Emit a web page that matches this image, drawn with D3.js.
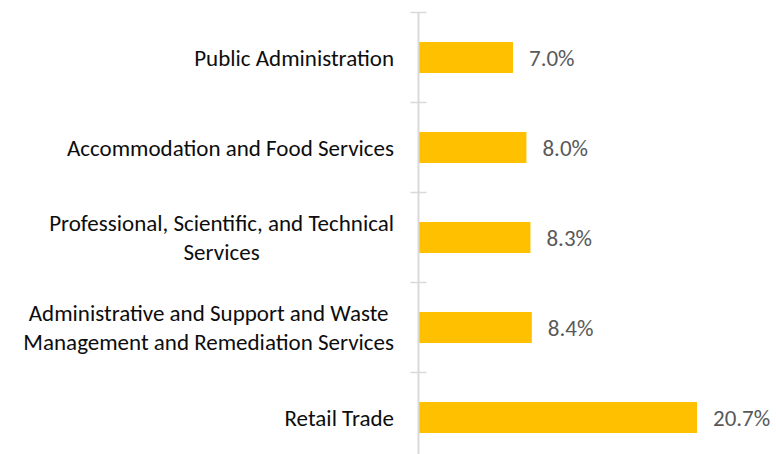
<!DOCTYPE html>
<html>
<head>
<meta charset="utf-8">
<script src="https://cdn.jsdelivr.net/npm/d3@7"></script>
<style>
  html, body { margin: 0; padding: 0; background: #fff; }
  svg { display: block; }
  text { font-family: Carlito, Calibri, Lato, "Open Sans", sans-serif; }
</style>
</head>
<body>
<svg id="chart" width="776" height="454"></svg>
<script>
// Data (top to bottom)
const categories = [
  "Public Administration",
  "Accommodation and Food Services",
  "Professional, Scientific, and Technical\nServices",
  "Administrative and Support and Waste\nManagement and Remediation Services",
  "Retail Trade"
];
const values = [7.0, 8.0, 8.3, 8.4, 20.7];
const valueLabels = ["7.0%", "8.0%", "8.3%", "8.4%", "20.7%"];

const W = 776, H = 454;
const axisX = 418.5;
const fontSize = 23;

const svg = d3.select("#chart");

const y = d3.scaleBand()
  .domain(categories)
  .range([12.5, 462.5])
  .paddingInner(0.655)
  .paddingOuter(0.3275);

const x = d3.scaleLinear()
  .domain([0, 20.7])
  .range([axisX + 0.5, 697]);

// Bars
svg.append("g").selectAll("rect")
  .data(categories)
  .join("rect")
  .attr("x", x(0))
  .attr("y", d => y(d))
  .attr("width", (d, i) => x(values[i]) - x(0))
  .attr("height", y.bandwidth())
  .attr("fill", "#FFC000");

// Axis line + ticks at category boundaries
const step = y.step();
const boundaries = d3.range(categories.length + 1).map(i => y.range()[0] + i * step);
const ag = svg.append("g");
ag.append("line")
  .attr("x1", axisX).attr("x2", axisX)
  .attr("y1", boundaries[0]).attr("y2", boundaries[boundaries.length - 1])
  .attr("stroke", "#d9d9d9").attr("stroke-width", 2);
ag.selectAll("line.tick")
  .data(boundaries)
  .join("line")
  .attr("class", "tick")
  .attr("x1", axisX - 8).attr("x2", axisX + 8)
  .attr("y1", d => d).attr("y2", d => d)
  .attr("stroke", "#d9d9d9").attr("stroke-width", 1.5);

// Category labels (centered multi-line block, right-aligned to axis)
const labelRight = 394;
const lineH = 29;
const lg = svg.append("g");
categories.forEach(cat => {
  const lines = cat.split("\n");
  const t = lg.append("text")
    .attr("font-size", fontSize)
    .attr("fill", "#0d0d0d")
    .attr("text-anchor", "middle")
    .attr("dominant-baseline", "central");
  const cy = y(cat) + y.bandwidth() / 2;
  lines.forEach((ln, j) => {
    t.append("tspan")
      .attr("y", cy + (j - (lines.length - 1) / 2) * lineH)
      .text(ln);
  });
  // measure widest line
  let maxW = 0;
  t.selectAll("tspan").each(function() { maxW = Math.max(maxW, this.getComputedTextLength()); });
  t.selectAll("tspan").attr("x", labelRight - maxW / 2);
});

// Value labels
svg.append("g").selectAll("text")
  .data(categories)
  .join("text")
  .attr("x", (d, i) => x(values[i]) + 16)
  .attr("y", d => y(d) + y.bandwidth() / 2)
  .attr("dominant-baseline", "central")
  .attr("font-size", fontSize)
  .attr("fill", "#595959")
  .text((d, i) => valueLabels[i]);
</script>
</body>
</html>
